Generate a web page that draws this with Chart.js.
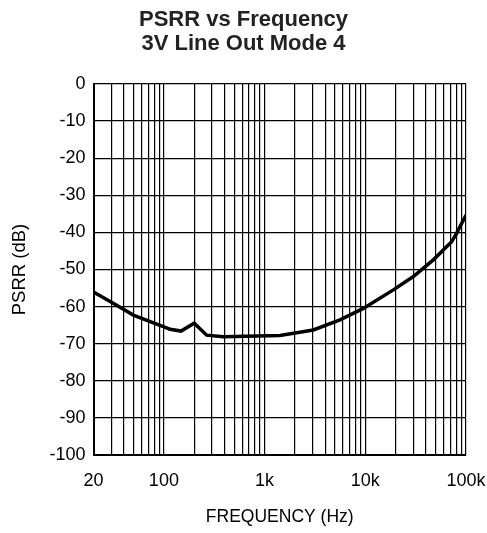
<!DOCTYPE html>
<html>
<head>
<meta charset="utf-8">
<script src="https://cdn.jsdelivr.net/npm/chart.js@4/dist/chart.umd.min.js"></script>
<style>
  body { margin: 0; background: #fff; }
  #wrap { width: 487px; height: 533px; }
</style>
</head>
<body>
<div id="wrap"><canvas id="my-chart" width="487" height="533"></canvas></div>
<script>
'use strict';

// data
let freqHz = [20, 31.4, 49.7, 98.6, 115, 148, 200, 266, 389, 1422, 3046, 5610, 9556, 18990, 29990, 47340, 72100, 80900, 100000];
let psrrDb = [-56.1, -59.1, -62.3, -65.4, -66.1, -66.6, -64.5, -67.7, -68.1, -67.8, -66.3, -63.6, -60.5, -55.5, -51.9, -47.4, -42.5, -40.2, -35.3];

// grid positions and labels
let xGridVals = [20, 30, 40, 50, 60, 70, 80, 90,
  100, 200, 300, 400, 500, 600, 700, 800, 900,
  1000, 2000, 3000, 4000, 5000, 6000, 7000, 8000, 9000,
  10000, 20000, 30000, 40000, 50000, 60000, 70000, 80000, 90000, 100000];
let xTickLabels = { 20: '20', 100: '100', 1000: '1k', 10000: '10k', 100000: '100k' };
let titleLines = ['PSRR vs Frequency', '3V Line Out Mode 4'];

let points = [];
for (let i = 0; i < freqHz.length; i++) {
  points.push({ x: freqHz[i], y: psrrDb[i] });
}

const fontFam = '"Liberation Sans", Arial, Helvetica, sans-serif';
Chart.defaults.font.family = fontFam;
Chart.defaults.color = '#000';

const ctx = document.getElementById('my-chart').getContext('2d');

new Chart(ctx, {
  type: 'line',
  data: {
    datasets: [{
      data: points,
      borderColor: '#000',
      borderWidth: 3.5,
      pointRadius: 0,
      tension: 0,
      fill: false
    }]
  },
  options: {
    responsive: false,
    animation: false,
    layout: { padding: { top: 8.4, right: 21, left: 21, bottom: 0 } },
    plugins: {
      legend: { display: false },
      tooltip: { enabled: false },
      title: {
        display: true,
        text: titleLines,
        font: { size: 22, weight: 'bold', lineHeight: 1.09 },
        color: '#222',
        padding: { top: 0, bottom: 27.6 }
      }
    },
    scales: {
      x: {
        type: 'logarithmic',
        min: 20,
        max: 100000,
        afterBuildTicks: function (scale) {
          scale.ticks = xGridVals.map(v => ({ value: v }));
        },
        afterFit: function (scale) {
          scale.height = 78;
          // let the end labels hang into the page padding
          scale.paddingLeft = 0;
          scale.paddingRight = 0;
        },
        ticks: {
          autoSkip: false,
          maxRotation: 0,
          font: { size: 18 },
          padding: 15.5,
          callback: function (v) {
            return xTickLabels[v] || '';
          }
        },
        grid: { color: '#000', lineWidth: 1.2, drawTicks: false },
        border: { color: '#000', width: 2 },
        title: {
          display: true,
          text: 'FREQUENCY (Hz)',
          font: { size: 17.5 },
          padding: { top: 0, bottom: 5.5 }
        }
      },
      y: {
        min: -100,
        max: 0,
        afterFit: function (scale) {
          scale.width = 72.5;
        },
        ticks: {
          stepSize: 10,
          font: { size: 18 },
          padding: 8,
          callback: function (v) { return String(v); }
        },
        grid: { color: '#000', lineWidth: 1.2, drawTicks: false },
        border: { color: '#000', width: 2 },
        title: {
          display: true,
          text: 'PSRR (dB)',
          font: { size: 18.5 },
          padding: { top: -11.8, bottom: 0 }
        }
      }
    }
  }
});
</script>
</body>
</html>
